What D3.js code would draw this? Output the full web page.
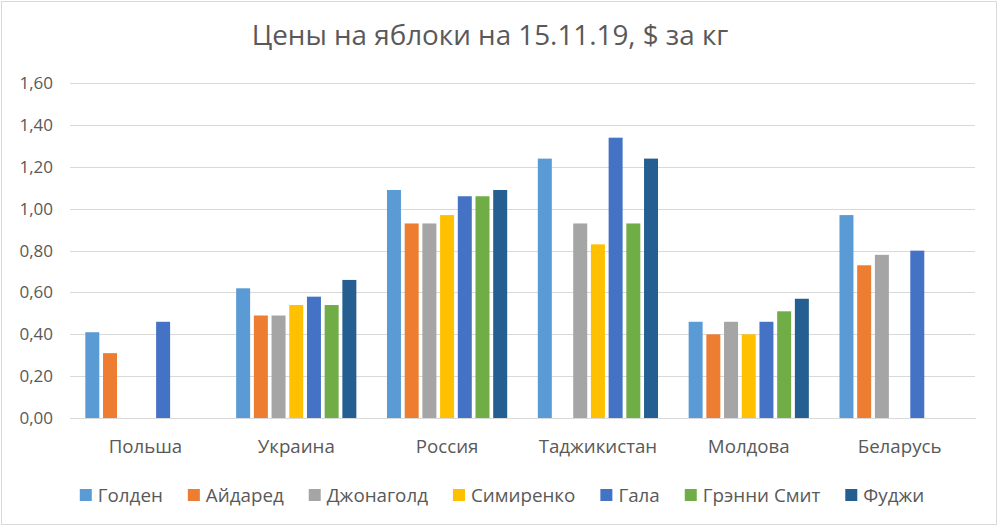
<!DOCTYPE html>
<html>
<head>
<meta charset="utf-8">
<script src="https://cdn.jsdelivr.net/npm/d3@7"></script>
<style>
  html, body { margin: 0; padding: 0; background: #fff; }
  svg { display: block; font-family: "Open Sans", sans-serif; }
</style>
</head>
<body>
<svg id="chart" width="999" height="527"></svg>
<script>
const title = "Цены на яблоки на 15.11.19, $ за кг";
const categories = ["Польша", "Украина", "Россия", "Таджикистан", "Молдова", "Беларусь"];
const seriesNames = ["Голден", "Айдаред", "Джонаголд", "Симиренко", "Гала", "Грэнни Смит", "Фуджи"];
const seriesColors = ["#5b9bd5", "#ed7d31", "#a5a5a5", "#ffc000", "#4472c4", "#70ad47", "#255e91"];
// values per series, in category order (null = no bar)
const golden    = [0.41, 0.62, 1.09, 1.24, 0.46, 0.97];
const aidared   = [0.31, 0.49, 0.93, null, 0.40, 0.73];
const jonagold  = [null, 0.49, 0.93, 0.93, 0.46, 0.78];
const simirenko = [null, 0.54, 0.97, 0.83, 0.40, null];
const gala      = [0.46, 0.58, 1.06, 1.34, 0.46, 0.80];
const granny    = [null, 0.54, 1.06, 0.93, 0.51, null];
const fuji      = [null, 0.66, 1.09, 1.24, 0.57, null];
const yTicks = [0, 0.2, 0.4, 0.6, 0.8, 1.0, 1.2, 1.4, 1.6];
const yTickLabels = ["0,00", "0,20", "0,40", "0,60", "0,80", "1,00", "1,20", "1,40", "1,60"];

const seriesValues = [golden, aidared, jonagold, simirenko, gala, granny, fuji];

const svg = d3.select("#chart");
const plot = { left: 70, right: 975, top: 83.3, bottom: 418 };
const textColor = "#595959";

// chart border
svg.append("rect").attr("x", 1.5).attr("y", 1.5).attr("width", 995).attr("height", 523)
  .attr("fill", "#fff").attr("stroke", "#d9d9d9").attr("stroke-width", 1);

// title
svg.append("text").attr("x", 490).attr("y", 45)
  .attr("text-anchor", "middle").attr("fill", textColor)
  .style("font-size", "27.8px").text(title);

const y = d3.scaleLinear().domain([0, 1.6]).range([plot.bottom, plot.top]);
const x0 = d3.scaleBand().domain(categories).range([plot.left, plot.right]).padding(0);
const x1 = d3.scaleBand().domain(seriesNames).range([0, x0.bandwidth()])
  .paddingInner(0.21).paddingOuter(0.865);

// gridlines + y labels
const yAxis = d3.axisLeft(y).tickValues(yTicks)
  .tickFormat((d, i) => yTickLabels[i]).tickSize(-(plot.right - plot.left)).tickPadding(17);
const gy = svg.append("g").attr("transform", `translate(${plot.left},0)`).call(yAxis);
gy.select(".domain").remove();
gy.selectAll(".tick line").attr("stroke", "#d9d9d9").attr("stroke-width", 1)
  .attr("shape-rendering", "crispEdges");
gy.selectAll(".tick text").attr("fill", textColor).style("font-size", "17px")
  .style("font-family", "'Open Sans', sans-serif");

// bars
const groups = svg.append("g").selectAll("g").data(categories).join("g")
  .attr("transform", d => `translate(${x0(d)},0)`);
groups.selectAll("rect")
  .data((c, ci) => seriesNames.map((s, si) => ({ s, si, v: seriesValues[si][ci] })).filter(d => d.v !== null))
  .join("rect")
  .attr("x", d => x1(d.s))
  .attr("width", x1.bandwidth())
  .attr("y", d => y(d.v))
  .attr("height", d => y(0) - y(d.v))
  .attr("fill", d => seriesColors[d.si]);

// category axis
const xAxis = d3.axisBottom(x0).tickSize(0).tickPadding(22);
const gx = svg.append("g").attr("transform", `translate(0,${plot.bottom})`).call(xAxis);
gx.select(".domain").attr("stroke", "#d9d9d9").attr("shape-rendering", "crispEdges");
gx.selectAll(".tick text").attr("fill", textColor).style("font-size", "18.7px")
  .style("font-family", "'Open Sans', sans-serif");

// legend
const legend = svg.append("g");
const legendY = 495;
const items = legend.selectAll("g").data(seriesNames).join("g");
items.append("rect").attr("width", 12).attr("height", 12).attr("y", legendY - 6)
  .attr("fill", (d, i) => seriesColors[i]);
items.append("text").attr("x", 18).attr("y", legendY).attr("dy", "0.35em")
  .attr("fill", textColor).style("font-size", "18.8px").text(d => d);
let cx = 0;
const offsets = [];
items.each(function () {
  const w = 18 + d3.select(this).select("text").node().getComputedTextLength();
  offsets.push(cx);
  cx += w + 25;
});
const totalW = cx - 25;
const startX = 502 - totalW / 2;
items.attr("transform", (d, i) => `translate(${startX + offsets[i]},0)`);
</script>
</body>
</html>
